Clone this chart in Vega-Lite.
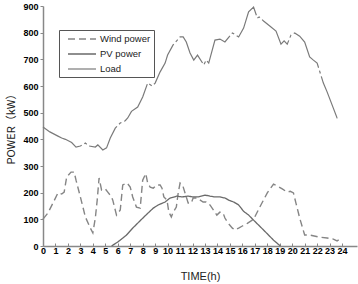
{
  "$schema": "https://vega.github.io/schema/vega-lite/v6.json",
  "width": 314,
  "height": 240,
  "autosize": {"type": "none"},
  "padding": {"left": 43, "top": 6, "right": 1, "bottom": 38},
  "background": "white",
  "config": {"view": {"stroke": null}, "font": "Liberation Sans"},
  "datasets": {
    "load": [
      {"t":0,"p":446},{"t":0.55,"p":428},{"t":1.2,"p":412},{"t":1.5,"p":405},{"t":1.8,"p":400},{"t":2.3,"p":388},{"t":2.65,"p":371},{"t":3.0,"p":375},{"t":3.4,"p":386},{"t":3.7,"p":375},{"t":4.2,"p":371},{"t":4.4,"p":379},{"t":4.8,"p":360},{"t":5.1,"p":368},{"t":5.4,"p":405},{"t":5.8,"p":442},{"t":6.2,"p":461},{"t":6.6,"p":470},{"t":6.8,"p":480},{"t":7.1,"p":505},{"t":7.6,"p":521},{"t":8.0,"p":559},{"t":8.4,"p":611},{"t":8.75,"p":600},{"t":9.0,"p":611},{"t":9.4,"p":653},{"t":9.8,"p":686},{"t":10.0,"p":716},{"t":10.44,"p":754},{"t":11.0,"p":784},{"t":11.25,"p":784},{"t":11.5,"p":765},{"t":11.8,"p":724},{"t":12.1,"p":697},{"t":12.4,"p":716},{"t":12.9,"p":679},{"t":13.1,"p":697},{"t":13.3,"p":686},{"t":13.8,"p":772},{"t":14.2,"p":776},{"t":14.6,"p":765},{"t":15.2,"p":799},{"t":15.7,"p":784},{"t":16.1,"p":817},{"t":16.5,"p":878},{"t":16.9,"p":896},{"t":17.2,"p":855},{"t":17.35,"p":859},{"t":17.7,"p":844},{"t":18.2,"p":825},{"t":18.7,"p":806},{"t":19.1,"p":757},{"t":19.35,"p":769},{"t":19.6,"p":757},{"t":19.9,"p":791},{"t":20.2,"p":799},{"t":20.6,"p":787},{"t":21.0,"p":765},{"t":21.4,"p":709},{"t":21.7,"p":697},{"t":22.0,"p":686},{"t":22.5,"p":611},{"t":22.8,"p":578},{"t":23.3,"p":517},{"t":23.6,"p":480},{"t":23.85,"p":480}
    ],
    "wind": [
      {"t":0,"p":101},{"t":0.4,"p":124},{"t":0.8,"p":161},{"t":1.2,"p":199},{"t":1.5,"p":195},{"t":1.7,"p":202},{"t":1.9,"p":259},{"t":2.25,"p":277},{"t":2.5,"p":277},{"t":2.65,"p":247},{"t":3.0,"p":184},{"t":3.4,"p":109},{"t":3.8,"p":67},{"t":4.0,"p":49},{"t":4.2,"p":105},{"t":4.35,"p":172},{"t":4.5,"p":255},{"t":4.7,"p":210},{"t":5.0,"p":214},{"t":5.2,"p":202},{"t":5.5,"p":184},{"t":5.6,"p":172},{"t":5.9,"p":116},{"t":6.2,"p":135},{"t":6.4,"p":229},{"t":6.75,"p":236},{"t":7.0,"p":221},{"t":7.2,"p":184},{"t":7.5,"p":146},{"t":7.8,"p":142},{"t":8.0,"p":247},{"t":8.25,"p":272},{"t":8.4,"p":236},{"t":8.6,"p":221},{"t":8.85,"p":217},{"t":9.15,"p":229},{"t":9.4,"p":229},{"t":9.55,"p":217},{"t":9.7,"p":184},{"t":9.95,"p":172},{"t":10.1,"p":127},{"t":10.3,"p":109},{"t":10.45,"p":127},{"t":10.7,"p":146},{"t":10.85,"p":199},{"t":11.0,"p":236},{"t":11.2,"p":229},{"t":11.4,"p":199},{"t":11.65,"p":161},{"t":11.9,"p":161},{"t":12.05,"p":180},{"t":12.35,"p":180},{"t":12.85,"p":165},{"t":13.1,"p":165},{"t":13.4,"p":154},{"t":13.95,"p":116},{"t":14.2,"p":127},{"t":14.45,"p":124},{"t":14.6,"p":105},{"t":14.85,"p":86},{"t":15.2,"p":67},{"t":15.4,"p":60},{"t":15.7,"p":67},{"t":16.0,"p":75},{"t":16.4,"p":85},{"t":16.9,"p":100},{"t":17.4,"p":146},{"t":18.0,"p":199},{"t":18.5,"p":232},{"t":18.8,"p":225},{"t":19.2,"p":214},{"t":19.6,"p":202},{"t":19.85,"p":205},{"t":20.1,"p":199},{"t":20.3,"p":161},{"t":20.6,"p":105},{"t":21.0,"p":41},{"t":21.4,"p":41},{"t":22.1,"p":34},{"t":22.8,"p":30},{"t":23.3,"p":26},{"t":23.6,"p":19},{"t":23.85,"p":26}
    ],
    "pv": [
      {"t":5.5,"p":0},{"t":6.0,"p":15},{"t":6.7,"p":41},{"t":7.2,"p":67},{"t":7.8,"p":95},{"t":8.35,"p":120},{"t":8.85,"p":142},{"t":9.25,"p":154},{"t":9.8,"p":165},{"t":10.2,"p":180},{"t":10.75,"p":187},{"t":11.15,"p":184},{"t":11.65,"p":187},{"t":12.05,"p":184},{"t":12.45,"p":184},{"t":13.0,"p":191},{"t":13.4,"p":187},{"t":13.8,"p":184},{"t":14.2,"p":184},{"t":14.6,"p":180},{"t":14.9,"p":172},{"t":15.3,"p":165},{"t":15.7,"p":154},{"t":16.1,"p":130},{"t":16.5,"p":116},{"t":16.9,"p":97},{"t":17.7,"p":60},{"t":18.5,"p":22},{"t":19.05,"p":0}
    ]
  },
  "layer": [
    {
      "data": {"name": "wind"},
      "transform": [{"calculate": "'Wind power'", "as": "s"}],
      "mark": {"type": "line"},
      "encoding": {}
    },
    {
      "data": {"name": "pv"},
      "transform": [{"calculate": "'PV power'", "as": "s"}],
      "mark": {"type": "line"},
      "encoding": {}
    },
    {
      "data": {"name": "load"},
      "transform": [{"calculate": "'Load'", "as": "s"}],
      "mark": {"type": "line"},
      "encoding": {}
    }
  ],
  "encoding": {
    "x": {
      "field": "t", "type": "quantitative",
      "scale": {"domain": [0, 25.2], "nice": false, "zero": false},
      "axis": {
        "values": [0,1,2,3,4,5,6,7,8,9,10,11,12,13,14,15,16,17,18,19,20,21,22,23,24],
        "grid": false, "title": "TIME(h)",
        "labelFont": "Liberation Sans", "labelFontWeight": "bold", "labelFontSize": 9, "labelColor": "#000",
        "labelFlush": false, "labelPadding": 3, "labelOverlap": false,
        "tickSize": -3, "tickColor": "#888", "domainColor": "#888", "domainWidth": 1.5,
        "titleX": 157, "titleY": 30, "titleBaseline": "middle", "titleAlign": "center",
        "titleFont": "Liberation Sans", "titleFontWeight": "normal", "titleFontSize": 11, "titleColor": "#222"
      }
    },
    "y": {
      "field": "p", "type": "quantitative",
      "scale": {"domain": [0, 900], "nice": false},
      "axis": {
        "values": [0,100,200,300,400,500,600,700,800,900],
        "grid": false, "title": "POWER（kW）",
        "labelFont": "Liberation Sans", "labelFontWeight": "bold", "labelFontSize": 9, "labelColor": "#000",
        "labelPadding": 2, "tickSize": 3, "tickColor": "#888", "domainColor": "#888", "domainWidth": 1.5,
        "titleX": -32, "titleY": 120, "titleAngle": -90, "titleBaseline": "middle", "titleAlign": "center",
        "titleFont": "Noto Sans CJK SC", "titleFontWeight": "normal", "titleFontSize": 11, "titleColor": "#222"
      }
    },
    "color": {
      "field": "s", "type": "nominal",
      "scale": {"domain": ["Wind power", "PV power", "Load"], "range": ["#858585", "#6a6a6a", "#7a7a7a"]},
      "legend": {
        "orient": "none", "legendX": 16, "legendY": 24, "title": null, "direction": "vertical",
        "symbolType": "stroke", "symbolSize": 100, "symbolOffset": 14,
        "labelFont": "Liberation Sans", "labelFontSize": 9.5, "labelColor": "#222", "labelOffset": 12,
        "padding": 3, "rowPadding": 4, "strokeColor": "#555", "fillColor": "white",
        "encode": {
          "symbols": {
            "update": {
              "shape": {"value": "M-2.8,0H2.8"},
              "strokeDash": [
                {"test": "datum.label === 'Load'", "value": [11, 2, 3, 2]},
                {"test": "datum.label === 'Wind power'", "value": [5, 4]},
                {"value": [1, 0]}
              ],
              "strokeWidth": [
                {"test": "datum.label === 'Load'", "value": 3},
                {"value": 1.3}
              ]
            }
          }
        }
      }
    },
    "strokeDash": {
      "field": "s", "type": "nominal",
      "scale": {"domain": ["Wind power", "PV power", "Load"], "range": [[7, 4], [1, 0], [45, 3, 3, 3]]},
      "legend": null
    },
    "strokeWidth": {
      "field": "s", "type": "nominal",
      "scale": {"domain": ["Wind power", "PV power", "Load"], "range": [1.4, 1.2, 2.6]},
      "legend": null
    }
  }
}
